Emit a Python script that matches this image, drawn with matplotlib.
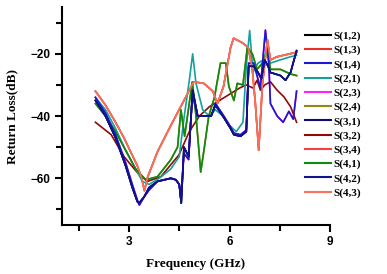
import matplotlib
matplotlib.use("Agg")
import matplotlib.pyplot as plt
from matplotlib.ticker import MultipleLocator

# frequency (GHz) / return loss (dB)
f_salmon = [2.0, 2.3, 2.6, 2.85, 3.05, 3.25, 3.38, 3.46, 3.56, 3.85, 4.25, 4.69, 4.93,
            5.23, 5.5, 5.64, 5.82, 6.03, 6.12, 6.39, 6.56, 6.68, 6.77, 6.87, 6.98, 7.13,
            7.22, 7.4, 7.6, 7.8, 8.0]
s_salmon = [-32, -36.5, -42, -47, -51.5, -56, -60, -64, -59.5, -51.5, -43, -34, -29,
            -29.5, -32, -36, -30.5, -18, -15, -16.5, -18, -25, -36, -51, -30, -15.5,
            -22, -21, -20.5, -20, -19.5]

f_green = [2.0, 2.3, 2.6, 2.9, 3.2, 3.5, 3.85, 4.25, 4.45, 4.55, 4.66, 4.89, 5.0, 5.14,
           5.25, 5.38, 5.55, 5.73, 5.89, 5.98, 6.13, 6.23, 6.4, 6.53, 6.68, 6.82, 6.98,
           7.13, 7.22, 7.52, 7.82, 8.0]
s_green = [-36, -40, -45, -51, -57, -60.5, -59.5, -54, -50, -38, -46.5, -29, -40, -58,
           -50, -40, -34, -23, -23, -30.5, -35, -29.5, -30, -18, -20, -25, -23,
           -19, -25, -25, -26.5, -27]

f_teal = [2.0, 2.3, 2.6, 2.9, 3.2, 3.4, 3.6, 3.9, 4.25, 4.5, 4.65, 4.8, 4.9, 5.0, 5.2,
          5.4, 5.58, 5.8, 6.0, 6.2, 6.4, 6.5, 6.6, 6.7, 6.85, 7.0, 7.1, 7.22, 7.5, 7.8,
          8.0]
s_teal = [-34, -38, -44, -51, -57, -61, -62, -60, -57, -53, -40, -28.5, -20, -29.5, -38,
          -40, -38, -40, -43, -45, -42, -24, -12.5, -26, -23, -22, -19, -23, -22, -21,
          -20.5]

f_blue = [2.0, 2.3, 2.6, 2.9, 3.1, 3.25, 3.31, 3.45, 3.6, 3.85, 4.25, 4.4, 4.5, 4.55,
          4.64, 4.78, 4.89, 5.05, 5.45, 5.58, 5.83, 6.03, 6.13, 6.33, 6.5, 6.57, 6.72,
          6.82, 6.92, 7.07, 7.17, 7.22, 7.42, 7.6, 7.77, 7.9, 8.0]
s_blue = [-34, -39, -46, -55, -62, -67, -68.6, -66, -63.8, -61, -60, -60.5, -62, -67,
          -52, -54, -33, -40, -40, -36, -40, -43.5, -45.5, -46, -44.5, -23, -23,
          -27, -31, -12.4, -23, -36, -40, -42, -38.5, -41, -32]

f_navy = [2.0, 2.3, 2.6, 2.9, 3.1, 3.25, 3.3, 3.45, 3.6, 3.85, 4.25, 4.4, 4.5, 4.56,
          4.64, 4.78, 4.9, 5.05, 5.45, 5.58, 5.83, 6.03, 6.13, 6.33, 6.5, 6.57, 6.72,
          6.85, 6.95, 7.05, 7.15, 7.22, 7.52, 7.67, 7.82, 8.0]
s_navy = [-35, -40, -47, -56, -63, -67.5, -68, -66, -63, -61, -60, -60.5, -62, -68,
          -50, -53, -31.7, -40, -40, -36.5, -40.5, -44, -46, -46.5, -45, -24, -24,
          -26, -28, -22, -24, -26, -27, -28.5, -26, -19]

f_darkred = [2.0, 2.47, 2.85, 3.26, 3.55, 3.95, 4.49, 4.8, 5.1, 5.4, 5.7, 6.0, 6.3,
             6.5, 6.7, 6.82, 6.92, 7.05, 7.22, 7.42, 7.62, 7.82, 8.0]
s_darkred = [-42, -46, -53, -58.3, -61, -59.5, -52.5, -45, -40, -37, -35, -33, -31,
             -30, -31, -28.5, -31.7, -30, -29, -31.7, -33.8, -37, -42]

labels = ["S(1,2)", "S(1,3)", "S(1,4)", "S(2,1)", "S(2,3)", "S(2,4)",
          "S(3,1)", "S(3,2)", "S(3,4)", "S(4,1)", "S(4,2)", "S(4,3)"]
colors = ["#000000", "#e8302a", "#1a1ad0", "#17a09a", "#ff20ff", "#8c8c10",
          "#0a0a78", "#8b0a0a", "#f04040", "#118811", "#12128c", "#f4735a"]
# which measured trace each entry follows (several overlap completely)
curves = [(f_navy, s_navy), (f_salmon, s_salmon), (f_blue, s_blue), (f_teal, s_teal),
          (f_blue, s_blue), (f_green, s_green), (f_navy, s_navy), (f_darkred, s_darkred),
          (f_salmon, s_salmon), (f_green, s_green), (f_navy, s_navy), (f_salmon, s_salmon)]
zorders = [1, 1, 4, 3, 1, 1, 5, 2, 1, 3, 5, 4]

fig = plt.figure(figsize=(3.87, 2.74), dpi=100)
ax = fig.add_axes([0.160, 0.179, 0.693, 0.795])

for lab, col, (fx, sy), z in zip(labels, colors, curves, zorders):
    ax.plot(fx, sy, color=col, lw=1.2, label=lab, zorder=z)

ax.set_xlim(1.0, 9.0)
ax.set_ylim(-75, -5)
ax.xaxis.set_minor_locator(MultipleLocator(1.5))
ax.yaxis.set_minor_locator(MultipleLocator(10))
ax.set_xticks([3, 6, 9])
ax.set_yticks([-20, -40, -60])
ax.spines["top"].set_visible(False)
ax.spines["right"].set_visible(False)
ax.spines["left"].set_linewidth(1.5)
ax.spines["bottom"].set_linewidth(1.5)
ax.tick_params(which="major", length=5, width=1.5, direction="out", pad=3)
ax.tick_params(which="minor", length=4, width=1.5, direction="out")
for t in ax.get_xticklabels() + ax.get_yticklabels():
    t.set_fontfamily("Liberation Sans")
    t.set_fontweight("bold")
    t.set_fontsize(8.5)

ax.set_xlabel("Frequency (GHz)", family="Liberation Serif", weight="bold",
              fontsize=9.5, labelpad=7)
ax.set_ylabel("Return Loss(dB)", family="Liberation Serif", weight="bold",
              fontsize=9.5, labelpad=9)

leg = ax.legend(loc="upper left", bbox_to_anchor=(0.905, 0.89), frameon=False,
                prop={"family": "Liberation Serif", "weight": "bold", "size": 8},
                handlelength=2.4, handletextpad=0.2, labelspacing=0.38,
                borderaxespad=0, borderpad=0)
for h in leg.get_lines():
    h.set_linewidth(1.5)

fig.savefig("out.png", dpi=100)
